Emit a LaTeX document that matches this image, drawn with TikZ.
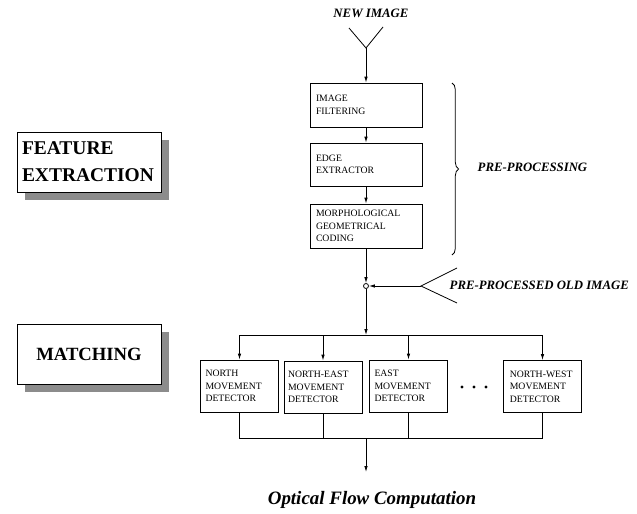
\documentclass[tikz,border=0pt]{standalone}
\usepackage{fontspec}
\setmainfont{Liberation Serif}
\usetikzlibrary{arrows.meta, shadows, decorations.pathreplacing}

\begin{document}
\begin{tikzpicture}[
  x=0.75pt, y=-0.75pt,
  every node/.style={font=\fontsize{7.3pt}{9.4pt}\selectfont},
  stage/.style={draw, align=left, inner xsep=4.5pt, inner ysep=0pt, line width=0.6pt},
  phase/.style={draw, fill=white, line width=0.6pt, minimum width=108pt, minimum height=45pt,
    font=\fontsize{14.6pt}{20.25pt}\selectfont\bfseries,
    general shadow={fill=black!45, shadow xshift=6pt, shadow yshift=-6pt}},
  label/.style={font=\fontsize{9.6pt}{11pt}\selectfont\bfseries\itshape},
  flow/.style={-{Latex[length=4.5pt,width=2.6pt]}, line width=0.6pt},
  wire/.style={line width=0.6pt}
]
  \useasboundingbox (0,0) rectangle (637,514);

  % input side
  \node[label] (newimg) at (371,13) {NEW IMAGE};
  \coordinate (newin) at (366,48);
  \draw[wire] (349,28) -- (newin) -- (383,27);

  \node[stage, text width=75pt, minimum height=33pt] (filter) at (366,105) {IMAGE\\FILTERING};
  \node[stage, text width=75pt, minimum height=32.25pt] (edge) at (366,164.5) {EDGE\\EXTRACTOR};
  \node[stage, text width=75pt, minimum height=33pt] (morph) at (366,226) {MORPHOLOGICAL\\GEOMETRICAL\\CODING};

  \draw[flow] (newin) -- (filter);
  \draw[flow] (filter) -- (edge);
  \draw[flow] (edge) -- (morph);

  \draw[wire, decorate, decoration={brace, amplitude=5pt}] (452,83) -- (452,255);
  \node[label, anchor=west] (preproc) at (473,167) {PRE-PROCESSING};

  % old image joins here
  \node[draw, circle, minimum size=3.75pt, inner sep=0pt, line width=0.6pt] (junc) at (366,286) {};
  \coordinate (oldin) at (421,286);
  \draw[wire] (457,268) -- (oldin) -- (457,303);
  \node[label, anchor=west] (oldimg) at (445,285) {PRE-PROCESSED OLD IMAGE};
  \draw[flow] (morph) -- (junc);
  \draw[flow] (oldin) -- (junc);

  % detectors
  \node[stage, inner xsep=3.5pt, text width=51pt, minimum height=39pt] (det1) at (239.5,386) {NORTH\\MOVEMENT\\DETECTOR};
  \node[stage, inner xsep=3pt, text width=52.5pt, minimum height=39pt] (det2) at (323,387) {NORTH-EAST\\MOVEMENT\\DETECTOR};
  \node[stage, inner xsep=3.5pt, text width=51pt, minimum height=39pt] (det3) at (408.5,386) {EAST\\MOVEMENT\\DETECTOR};
  \node[stage, inner xsep=5pt, text width=49pt, minimum height=39pt] (det4) at (542.5,386.5) {NORTH-WEST\\MOVEMENT\\DETECTOR};
  \foreach \x in {462,474,486}
    \fill (\x,387) circle (1.6);

  \coordinate (split) at (366,335);
  \draw[flow] (junc) -- (split);
  \draw[wire] (det1.north |- split) -- (det4.north |- split);
  \foreach \d in {det1,det2,det3,det4}
    \draw[flow] (\d.north |- split) -- (\d.north);

  \coordinate (merge) at (366,438);
  \draw[wire] (det1.south) -- (det1.south |- merge) -- (det4.south |- merge) -- (det4.south);
  \draw[wire] (det2.south) -- (det2.south |- merge);
  \draw[wire] (det3.south) -- (det3.south |- merge);
  \coordinate (out) at (366,472);
  \draw[flow] (merge) -- (out);
  \node[font=\fontsize{14.2pt}{16pt}\selectfont\bfseries\itshape] (result) at (372,500) {Optical Flow Computation};

  % phase boxes
  \node[phase, text width=100.5pt, align=left, inner xsep=3.75pt] (feature) at (89,162) {FEATURE\\EXTRACTION};
  \node[phase, font=\fontsize{14pt}{20pt}\selectfont\bfseries] (matching) at (89,354) {MATCHING};
\end{tikzpicture}
\end{document}
